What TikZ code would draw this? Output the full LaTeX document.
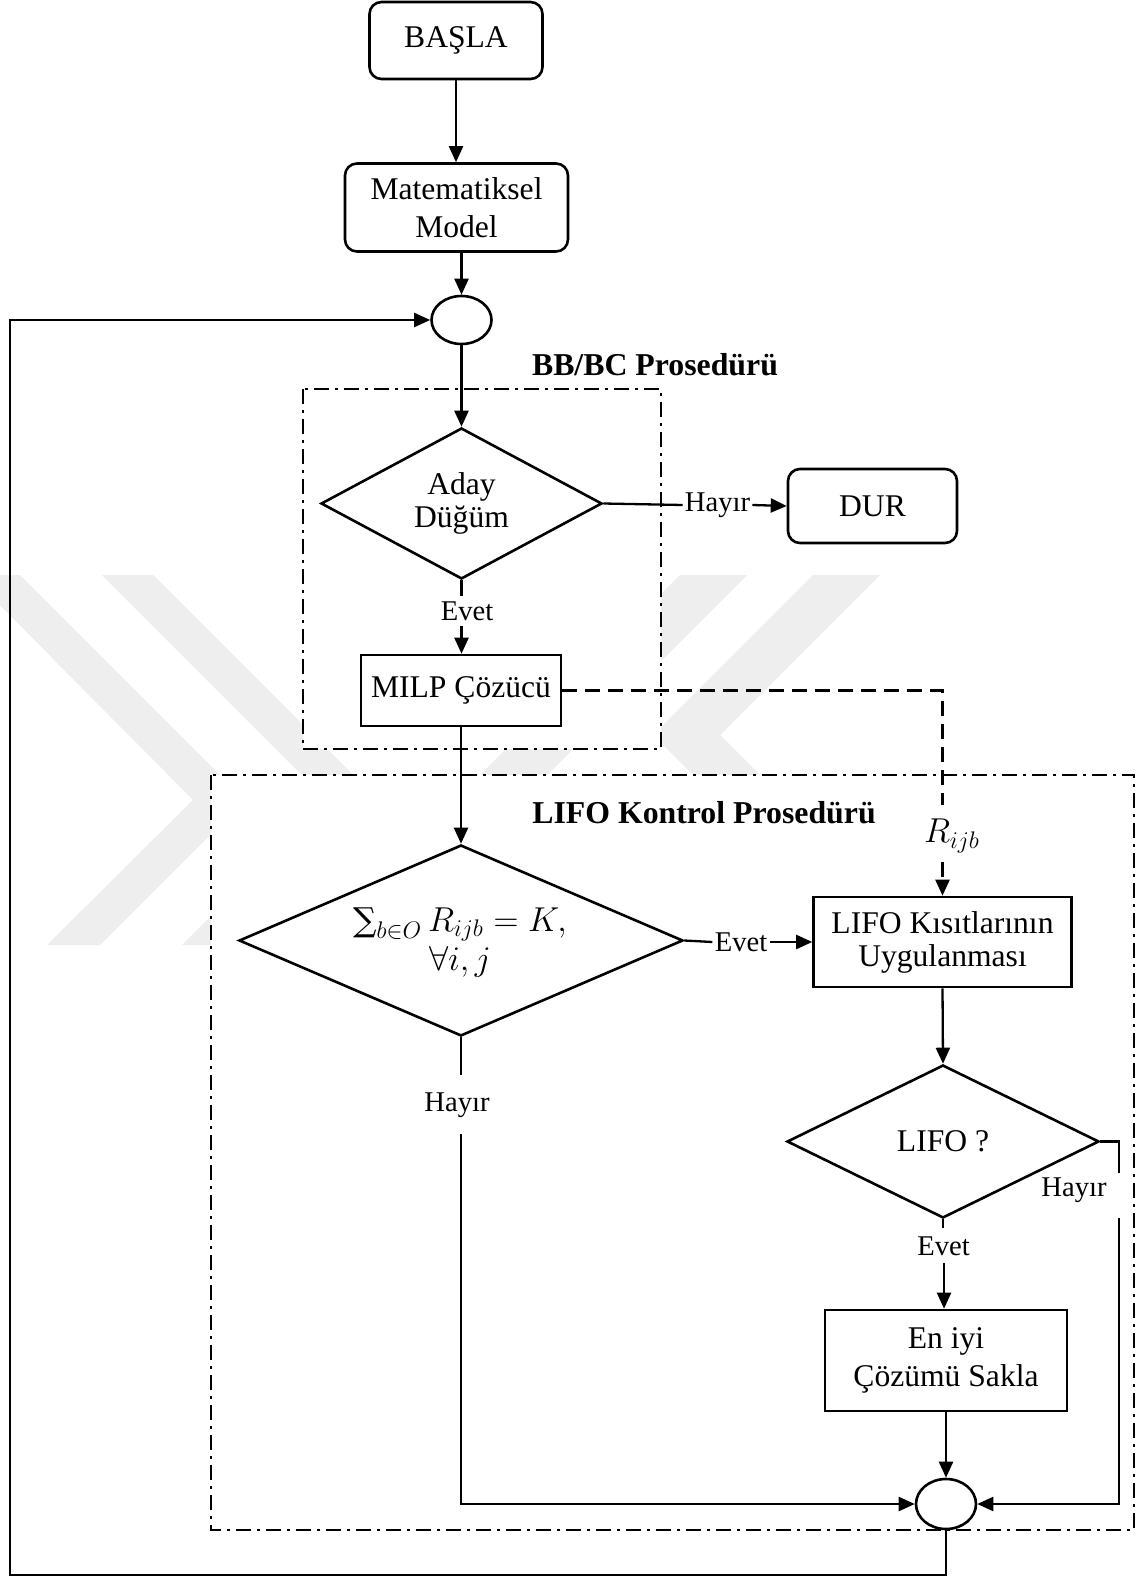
\documentclass[tikz,border=0pt]{standalone}
\usepackage{fontspec}
\setmainfont{Liberation Serif}
\newfontfamily\opsymbols{DejaVu Serif}
\usetikzlibrary{shapes.geometric,arrows.meta}

\definecolor{wmark}{RGB}{238,238,238}

\begin{document}
\begin{tikzpicture}[x=0.5pt,y=-0.5pt,
  every node/.style={font=\fontsize{15.8}{19}\selectfont},
  proc/.style={draw, line width=1.3pt, fill=white, inner sep=0pt, align=center},
  term/.style={proc, rounded corners=6pt},
  dec/.style={draw, diamond, line width=1.3pt, fill=white, inner sep=0pt, align=center},
  junc/.style={draw, ellipse, line width=1.3pt, fill=white, inner sep=0pt},
  lbl/.style={font=\fontsize{14.3}{17}\selectfont, inner xsep=1pt, inner ysep=0pt},
  ttl/.style={font=\fontsize{15.9}{19}\selectfont\bfseries},
  flow/.style={line width=1.15pt},
  arr/.style={flow, -{Triangle[length=8pt,width=7pt]}},
  region/.style={line width=1.1pt, dash pattern=on 7.5pt off 3pt on 1.5pt off 3pt, fill=white},
  link/.style={line width=1.15pt, dash pattern=on 7.5pt off 4pt}]

\useasboundingbox (0,0) rectangle (1142,1577);
\fill[white] (0,0) rectangle (1142,1577);

% faint background emblem
\begin{scope}
  \clip (0,0) rectangle (1142,1577);
  \fill[wmark] (-30,575) -- (20,575) -- (245,800) -- (100,945) -- (47,945) -- (193,800) -- cycle;
  \fill[wmark] (102,575) -- (153,575) -- (378,800) -- (233,945) -- (182,945) -- (327,800) -- cycle;
  \fill[wmark] (680,575) -- (747,575) -- (537,785) -- (470,785) -- cycle;
  \fill[wmark] (813,575) -- (880,575) -- (720,735) -- (770,785) -- (703,785) -- (653,735) -- cycle;
\end{scope}

% procedure regions
\draw[region] (303,389) rectangle (661,749);
\draw[region] (211,775) rectangle (1134,1530);

% nodes
\node[term, minimum width=86.5pt, minimum height=38.5pt] (basla) at (456,40.5) {BAŞLA};
\node[term, minimum width=111.5pt, minimum height=44pt] (model) at (456.5,207.5) {Matematiksel\\Model};
\node[junc, minimum width=30pt, minimum height=24pt] (jin) at (461.5,320) {};
\node[ttl] (bbttl) at (655,365) {BB/BC Prosedürü};
\node[dec, minimum width=140.5pt, minimum height=75.5pt, aspect=1.86,
      font=\fontsize{15.8}{16.5}\selectfont] (aday) at (461.5,503.5) {Aday\\Düğüm};
\node[lbl] (hayirA) at (717.5,505) {Hayır};
\node[term, minimum width=84.5pt, minimum height=37pt] (dur) at (872.5,506) {DUR};
\node[lbl] (evetA) at (467,611) {Evet};
\node[proc, minimum width=100pt, minimum height=35.5pt] (milp) at (461,690.5) {MILP Çözücü};
\node[ttl] (lifottl) at (704,813) {LIFO Kontrol Prosedürü};
\node[inner sep=0pt, font=\fontsize{17}{19}\selectfont] (rij) at (952,836) {$R_{ijb}$};
\node[dec, minimum width=222pt, minimum height=95.5pt, aspect=2.32] (sigma) at (461,940.5) {};
\node[align=center, font=\fontsize{16.5}{17}\selectfont] (sigtxt) at (460,942)
      {$\mbox{\opsymbols ∑}_{b\in O}\, R_{ijb} = K,$\\[2.5pt]$\forall i, j$};
\node[lbl] (evetB) at (741,942) {Evet};
\node[proc, minimum width=129pt, minimum height=45pt,
      font=\fontsize{15.8}{16.5}\selectfont] (lifok) at (942.5,942) {LIFO Kısıtlarının\\Uygulanması};
\node[dec, minimum width=156pt, minimum height=76.5pt, aspect=2.04] (lifoq) at (943,1141.5) {LIFO ?};
\node[lbl] (hayirB) at (457,1105) {Hayır};
\node[lbl] (evetC) at (943.5,1246) {Evet};
\node[lbl] (hayirC) at (1074,1190) {Hayır};
\node[proc, minimum width=121pt, minimum height=50.5pt] (best) at (946,1360.5) {En iyi\\Çözümü Sakla};
\node[junc, minimum width=30pt, minimum height=25pt] (jout) at (946,1504) {};

% bend points and label gaps
\coordinate (eA1) at (461.5,596);
\coordinate (eA2) at (461.5,626);
\coordinate (dbend) at (942.5,690.5);
\coordinate (dgap1) at (942.5,805);
\coordinate (dgap2) at (942.5,862);
\coordinate (hB1) at (461,1075);
\coordinate (hB2) at (461,1134);
\coordinate (hB3) at (461,1504);
\coordinate (eC1) at (943,1228);
\coordinate (eC2) at (944,1263);
\coordinate (hC0) at (1119,1141.5);
\coordinate (hC1) at (1119,1173);
\coordinate (hC2) at (1119,1218);
\coordinate (hC3) at (1119,1504);
\coordinate (lp1) at (946,1575);
\coordinate (lp2) at (10,1575);
\coordinate (lp3) at (10,320);

% connectors
\draw[arr] (basla.south) -- (basla.south |- model.north);
\draw[arr] (model.south -| jin) -- (jin.north);
\draw[arr] (jin.south) -- (aday.north);
\draw[flow] (aday.east) -- (hayirA.west);
\draw[arr] (hayirA.east) -- (dur.west);
\draw[flow] (aday.south) -- (eA1);
\draw[arr] (eA2) -- (eA2 |- milp.north);
\draw[arr] (milp.south) -- (sigma.north);
\draw[link] (milp.east) -- (dbend) -- (dgap1);
\draw[link, -{Triangle[length=8pt,width=7pt]}] (dgap2) -- (lifok.north);
\draw[flow] (sigma.east) -- (evetB.west);
\draw[arr] (evetB.east) -- (lifok.west);
\draw[arr] (lifok.south) -- (lifoq.north);
\draw[flow] (lifoq.south) -- (eC1);
\draw[arr] (eC2) -- (eC2 |- best.north);
\draw[arr] (best.south) -- (jout.north);
\draw[flow] (lifoq.east) -- (hC0) -- (hC1);
\draw[arr] (hC2) -- (hC3) -- (jout.east);
\draw[flow] (sigma.south) -- (hB1);
\draw[arr] (hB2) -- (hB3) -- (jout.west);
\draw[arr] (jout.south) -- (lp1) -- (lp2) -- (lp3) -- (jin.west);

\end{tikzpicture}
\end{document}
